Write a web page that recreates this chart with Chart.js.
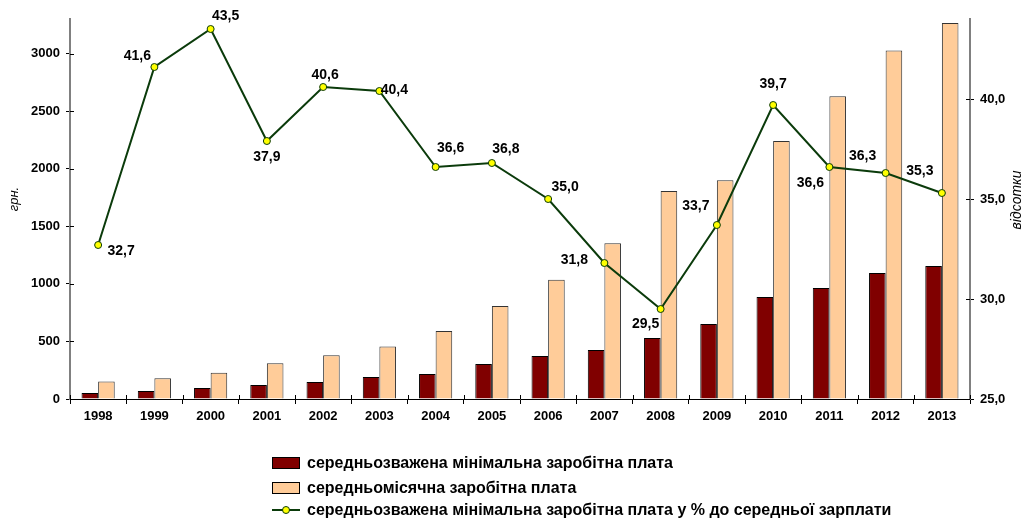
<!DOCTYPE html>
<html>
<head>
<meta charset="utf-8">
<style>
    html, body { margin: 0; padding: 0; background: #fff; }
    .chart-container { position: relative; width: 1027px; height: 521px; }
</style>
</head>
<body>
<div class="chart-container">
    <canvas id="myChart" width="1027" height="521"></canvas>
</div>

<script src="https://cdn.jsdelivr.net/npm/chart.js"></script>

<script>

    const years = ['1998', '1999', '2000', '2001', '2002', '2003', '2004', '2005',
                   '2006', '2007', '2008', '2009', '2010', '2011', '2012', '2013'];

    // середньозважена мінімальна заробітна плата, грн.
    const minWage = [52, 69, 95, 122, 148, 191, 217, 304, 373, 425, 530, 651, 885, 963, 1094, 1155];

    // середньомісячна заробітна плата, грн.
    const avgWage = [153, 180, 228, 311, 380, 455, 590, 807, 1036, 1353, 1806, 1900, 2240, 2630, 3027, 3265];

    // мінімальна у % до середньої
    const minWagePct = [32.7, 41.6, 43.5, 37.9, 40.6, 40.4, 36.6, 36.8, 35.0, 31.8, 29.5, 33.7, 39.7, 36.6, 36.3, 35.3];

    // axis ticks
    const leftTicks = [0, 500, 1000, 1500, 2000, 2500, 3000];
    const rightTicks = [25, 30, 35, 40];

    const legendLabels = [
        'середньозважена мінімальна заробітна плата',
        'середньомісячна заробітна плата',
        'середньозважена мінімальна заробітна плата у % до середньої зарплати'
    ];

    // where each % label sits relative to its point (px)
    const labelOffsets = [
        [23, 6], [-17, -11], [15, -13], [0, 16], [2, -12], [15, -1], [15, -19], [14, -14],
        [17, -12], [-30, -3], [-15, 15], [-21, -19], [0, -21], [-19, 16], [-23, -17], [-22, -22]
    ];

    const DARK = '#800000';
    const LIGHT = '#ffcc99';
    const LINE = '#0b3b0b';
    const FONT = "'Liberation Sans', Arial, sans-serif";

    const fmt = v => v.toFixed(1).replace('.', ',');

    const extrasPlugin = {
        id: 'extras',
        afterDatasetsDraw(chart) {
            const ctx = chart.ctx;
            const meta = chart.getDatasetMeta(2);
            ctx.save();
            ctx.font = 'bold 14px ' + FONT;
            ctx.fillStyle = '#000';
            ctx.textAlign = 'center';
            ctx.textBaseline = 'middle';
            meta.data.forEach((pt, i) => {
                const off = labelOffsets[i];
                ctx.fillText(fmt(minWagePct[i]), pt.x + off[0], pt.y + off[1]);
            });
            ctx.restore();
        },
        afterDraw(chart) {
            const ctx = chart.ctx;
            const area = chart.chartArea;
            ctx.save();

            // inner half of the tick marks, so they cross the axis lines
            ctx.strokeStyle = '#000';
            ctx.lineWidth = 1;
            ctx.beginPath();
            chart.scales.y.ticks.forEach(t => {
                const y = Math.round(chart.scales.y.getPixelForValue(t.value)) + 0.5;
                ctx.moveTo(area.left, y);
                ctx.lineTo(area.left + 4, y);
            });
            chart.scales.y1.ticks.forEach(t => {
                const y = Math.round(chart.scales.y1.getPixelForValue(t.value)) + 0.5;
                ctx.moveTo(area.right - 4, y);
                ctx.lineTo(area.right, y);
            });
            for (let i = 0; i <= years.length; i++) {
                const x = Math.round(area.left + i * (area.right - area.left) / years.length) + 0.5;
                ctx.moveTo(x, area.bottom - 4);
                ctx.lineTo(x, area.bottom);
            }
            ctx.stroke();

            // axis titles
            ctx.fillStyle = '#000';
            ctx.textAlign = 'center';
            ctx.textBaseline = 'middle';
            ctx.font = 'italic 13px ' + FONT;
            ctx.translate(14, 199);
            ctx.rotate(-Math.PI / 2);
            ctx.fillText('грн.', 0, 0);
            ctx.setTransform(1, 0, 0, 1, 0, 0);
            ctx.font = 'italic 14px ' + FONT;
            ctx.translate(1017, 200);
            ctx.rotate(-Math.PI / 2);
            ctx.fillText('відсотки', 0, 0);
            ctx.setTransform(1, 0, 0, 1, 0, 0);

            // legend, one item per row
            const x0 = 272, rows = [463, 488, 510];
            ctx.font = "bold 16px 'Liberation Sans Narrow', 'Arial Narrow', " + FONT;
            ctx.textAlign = 'left';
            rows.forEach((y, i) => {
                if (i < 2) {
                    ctx.fillStyle = i === 0 ? DARK : LIGHT;
                    ctx.fillRect(x0, y - 6, 28, 12);
                    ctx.strokeStyle = '#000';
                    ctx.lineWidth = 1;
                    ctx.strokeRect(x0 + 0.5, y - 5.5, 27, 11);
                } else {
                    ctx.strokeStyle = LINE;
                    ctx.lineWidth = 2;
                    ctx.beginPath();
                    ctx.moveTo(x0, y);
                    ctx.lineTo(x0 + 28, y);
                    ctx.stroke();
                    ctx.beginPath();
                    ctx.arc(x0 + 14, y, 3.5, 0, Math.PI * 2);
                    ctx.fillStyle = '#ffff00';
                    ctx.fill();
                    ctx.lineWidth = 1;
                    ctx.stroke();
                }
                ctx.fillStyle = '#000';
                ctx.fillText(legendLabels[i], x0 + 35, y + 1);
            });
            ctx.restore();
        }
    };

    const ctx = document.getElementById('myChart').getContext('2d');

    const chartInstance = new Chart(ctx, {
        type: 'bar',
        data: {
            labels: years,
            datasets: [
                {
                    label: legendLabels[0],
                    data: minWage,
                    backgroundColor: DARK,
                    borderColor: '#000',
                    borderWidth: 1,
                    yAxisID: 'y',
                    order: 2
                },
                {
                    label: legendLabels[1],
                    data: avgWage,
                    backgroundColor: LIGHT,
                    borderColor: '#333',
                    borderWidth: 1,
                    yAxisID: 'y',
                    order: 2
                },
                {
                    label: legendLabels[2],
                    type: 'line',
                    data: minWagePct,
                    borderColor: LINE,
                    borderWidth: 2,
                    tension: 0,
                    pointRadius: 3.5,
                    pointBackgroundColor: '#ffff00',
                    pointBorderColor: LINE,
                    pointBorderWidth: 1,
                    yAxisID: 'y1',
                    order: 1
                }
            ]
        },
        options: {
            responsive: false,
            animation: false,
            datasets: {
                bar: { categoryPercentage: 0.59, barPercentage: 1.0 }
            },
            layout: { padding: { top: 19, bottom: 92, left: 0, right: 0 } },
            plugins: {
                legend: { display: false },
                tooltip: { enabled: false }
            },
            scales: {
                x: {
                    grid: { offset: true, drawOnChartArea: false, tickLength: 5, color: '#000' },
                    border: { color: '#000', width: 1 },
                    ticks: { color: '#000', font: { family: FONT, size: 13, weight: 'bold' }, padding: 5 },
                    afterFit: scale => { scale.height = 30; }
                },
                y: {
                    position: 'left',
                    min: 0,
                    max: 3300,
                    ticks: {
                        autoSkip: false,
                        color: '#000',
                        font: { family: FONT, size: 13, weight: 'bold' },
                        padding: 6,
                        callback: value => String(value)
                    },
                    grid: { drawOnChartArea: false, tickLength: 4, color: '#000' },
                    border: { color: '#808080', width: 2 },
                    afterBuildTicks: scale => { scale.ticks = leftTicks.map(v => ({ value: v })); },
                    afterFit: scale => { scale.width = 70; }
                },
                y1: {
                    position: 'right',
                    min: 25,
                    max: 44,
                    ticks: {
                        autoSkip: false,
                        color: '#000',
                        font: { family: FONT, size: 13, weight: 'bold' },
                        padding: 6,
                        callback: value => fmt(value)
                    },
                    grid: { drawOnChartArea: false, tickLength: 4, color: '#000' },
                    border: { color: '#808080', width: 2 },
                    afterBuildTicks: scale => { scale.ticks = rightTicks.map(v => ({ value: v })); },
                    afterFit: scale => { scale.width = 57; }
                }
            }
        },
        plugins: [extrasPlugin]
    });

</script>
</body>
</html>
